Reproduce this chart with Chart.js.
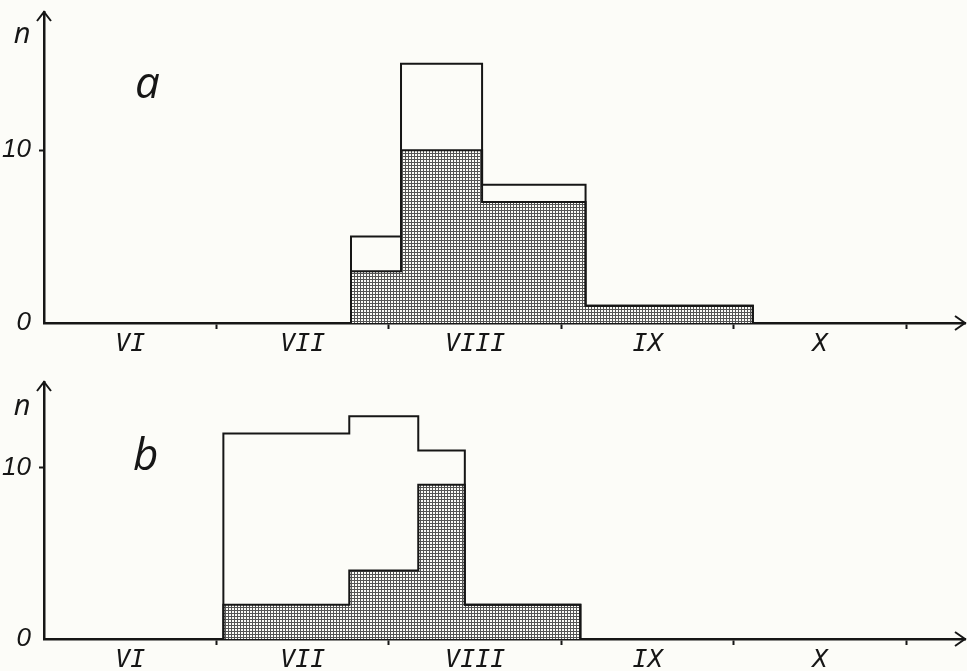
<!DOCTYPE html>
<html>
<head>
<meta charset="utf-8">
<script src="https://cdn.jsdelivr.net/npm/chart.js@4.4.0/dist/chart.umd.min.js"></script>
<style>
    body { margin: 0; background: #fcfcf8; }
    .panel { position: absolute; left: 0; width: 967px; }
    #wrapA { top: 0; height: 355px; }
    #wrapB { top: 355px; height: 316px; }
</style>
</head>
<body>
<div class="panel" id="wrapA"><canvas id="chartA"></canvas></div>
<div class="panel" id="wrapB"><canvas id="chartB"></canvas></div>
<script>
// Os X w miesiacach liczonych od poczatku VI
const monthLabels = ['VI', 'VII', 'VIII', 'IX', 'X'];
const yTicks = [0, 10];

// Panel a: krawedzie przedzialow i licznosci
const edgesA = [1.78, 2.07, 2.54, 3.14, 4.11];
const totalA = [5, 15, 8, 1];
const shadedA = [3, 10, 7, 1];

// Panel b
const edgesB = [1.04, 1.77, 2.17, 2.44, 3.11];
const totalB = [12, 13, 11, 2];
const shadedB = [2, 4, 9, 2];

const INK = '#161616';
const PAPER = '#fcfcf8';

function makePattern() {
    const c = document.createElement('canvas');
    c.width = 3;
    c.height = 3;
    const g = c.getContext('2d');
    g.fillStyle = '#555555';
    g.fillRect(0, 0, 3, 3);
    g.fillStyle = PAPER;
    g.fillRect(1, 1, 2, 2);
    return g.createPattern(c, 'repeat');
}

// schodki histogramu z krawedzi i licznosci
function stepPoints(edges, counts) {
    const pts = [{x: edges[0], y: 0}];
    counts.forEach((c, i) => pts.push({x: edges[i], y: c}));
    pts.push({x: edges[edges.length - 1], y: 0});
    return pts;
}

const panelDeco = {
    id: 'panelDeco',
    afterDraw(chart, args, opts) {
        const {ctx, chartArea: a, scales: {x, y}} = chart;
        ctx.save();
        ctx.strokeStyle = INK;
        ctx.lineWidth = 2;
        ctx.beginPath();
        // strzalki na koncach osi
        ctx.moveTo(a.left - 7, a.top + 9);
        ctx.lineTo(a.left, a.top);
        ctx.lineTo(a.left + 7, a.top + 9);
        ctx.moveTo(a.right - 10, a.bottom - 7);
        ctx.lineTo(a.right, a.bottom);
        ctx.lineTo(a.right - 10, a.bottom + 7);
        ctx.stroke();
        ctx.fillStyle = INK;
        ctx.textAlign = 'center';
        ctx.textBaseline = 'alphabetic';
        ctx.font = 'italic 29px "Open Sans", "DejaVu Sans", sans-serif';
        ctx.fillText('n', a.left - 22, y.getPixelForValue(opts.nAt));
        ctx.font = 'italic 44px "Open Sans", "DejaVu Sans", sans-serif';
        ctx.fillText(opts.letter, x.getPixelForValue(opts.letterAt[0]), y.getPixelForValue(opts.letterAt[1]));
        ctx.restore();
    }
};

function makeChart(id, edges, total, shaded, yMax, padTop, deco) {
    const ctx = document.getElementById(id).getContext('2d');
    return new Chart(ctx, {
        type: 'line',
        data: {
            datasets: [{
                label: 'total',
                data: stepPoints(edges, total),
                stepped: 'before',
                borderColor: INK,
                borderWidth: 2,
                pointRadius: 0,
                fill: false
            }, {
                label: 'shaded',
                data: stepPoints(edges, shaded),
                stepped: 'before',
                borderColor: INK,
                borderWidth: 2,
                pointRadius: 0,
                backgroundColor: makePattern(),
                fill: 'origin'
            }]
        },
        options: {
            responsive: true,
            maintainAspectRatio: false,
            animation: false,
            events: [],
            layout: {
                padding: {top: padTop, left: 0, right: 2, bottom: 0}
            },
            scales: {
                x: {
                    type: 'linear',
                    min: 0,
                    max: 5.34,
                    afterBuildTicks: scale => {
                        const t = [];
                        monthLabels.forEach((m, i) => {
                            t.push({value: i + 0.5});
                            t.push({value: i + 1});
                        });
                        scale.ticks = t;
                    },
                    afterFit: scale => {
                        scale.height = 32;
                        scale.paddingLeft = 0;
                        scale.paddingRight = 0;
                    },
                    border: {display: true, color: INK, width: 2.5},
                    grid: {
                        drawOnChartArea: false,
                        drawTicks: true,
                        tickLength: 6,
                        tickWidth: 2,
                        tickColor: c => Number.isInteger(c.tick.value) ? INK : 'rgba(0,0,0,0)'
                    },
                    ticks: {
                        autoSkip: false,
                        maxRotation: 0,
                        padding: 0,
                        color: INK,
                        font: {family: '"DejaVu Sans Mono", monospace', style: 'italic', size: 25},
                        callback: v => Number.isInteger(v) ? '' : monthLabels[Math.floor(v)]
                    }
                },
                y: {
                    type: 'linear',
                    min: 0,
                    max: yMax,
                    afterBuildTicks: scale => {
                        scale.ticks = yTicks.map(v => ({value: v}));
                    },
                    afterFit: scale => {
                        scale.width = 44;
                        scale.paddingTop = 0;
                        scale.paddingBottom = 0;
                    },
                    border: {display: true, color: INK, width: 2.5},
                    grid: {
                        drawOnChartArea: false,
                        drawTicks: true,
                        tickLength: 5,
                        tickWidth: 2,
                        tickColor: c => c.tick.value === 0 ? 'rgba(0,0,0,0)' : INK
                    },
                    ticks: {
                        padding: 8,
                        color: INK,
                        font: {family: '"Liberation Sans", sans-serif', style: 'italic', size: 26}
                    }
                }
            },
            plugins: {
                legend: {display: false},
                tooltip: {enabled: false},
                panelDeco: deco
            }
        },
        plugins: [panelDeco]
    });
}

makeChart('chartA', edgesA, totalA, shadedA, 18, 12, {letter: 'a', letterAt: [0.6, 13.0], nAt: 16.2});
makeChart('chartB', edgesB, totalB, shadedB, 15, 27, {letter: 'b', letterAt: [0.59, 9.85], nAt: 13.06});
</script>
</body>
</html>
